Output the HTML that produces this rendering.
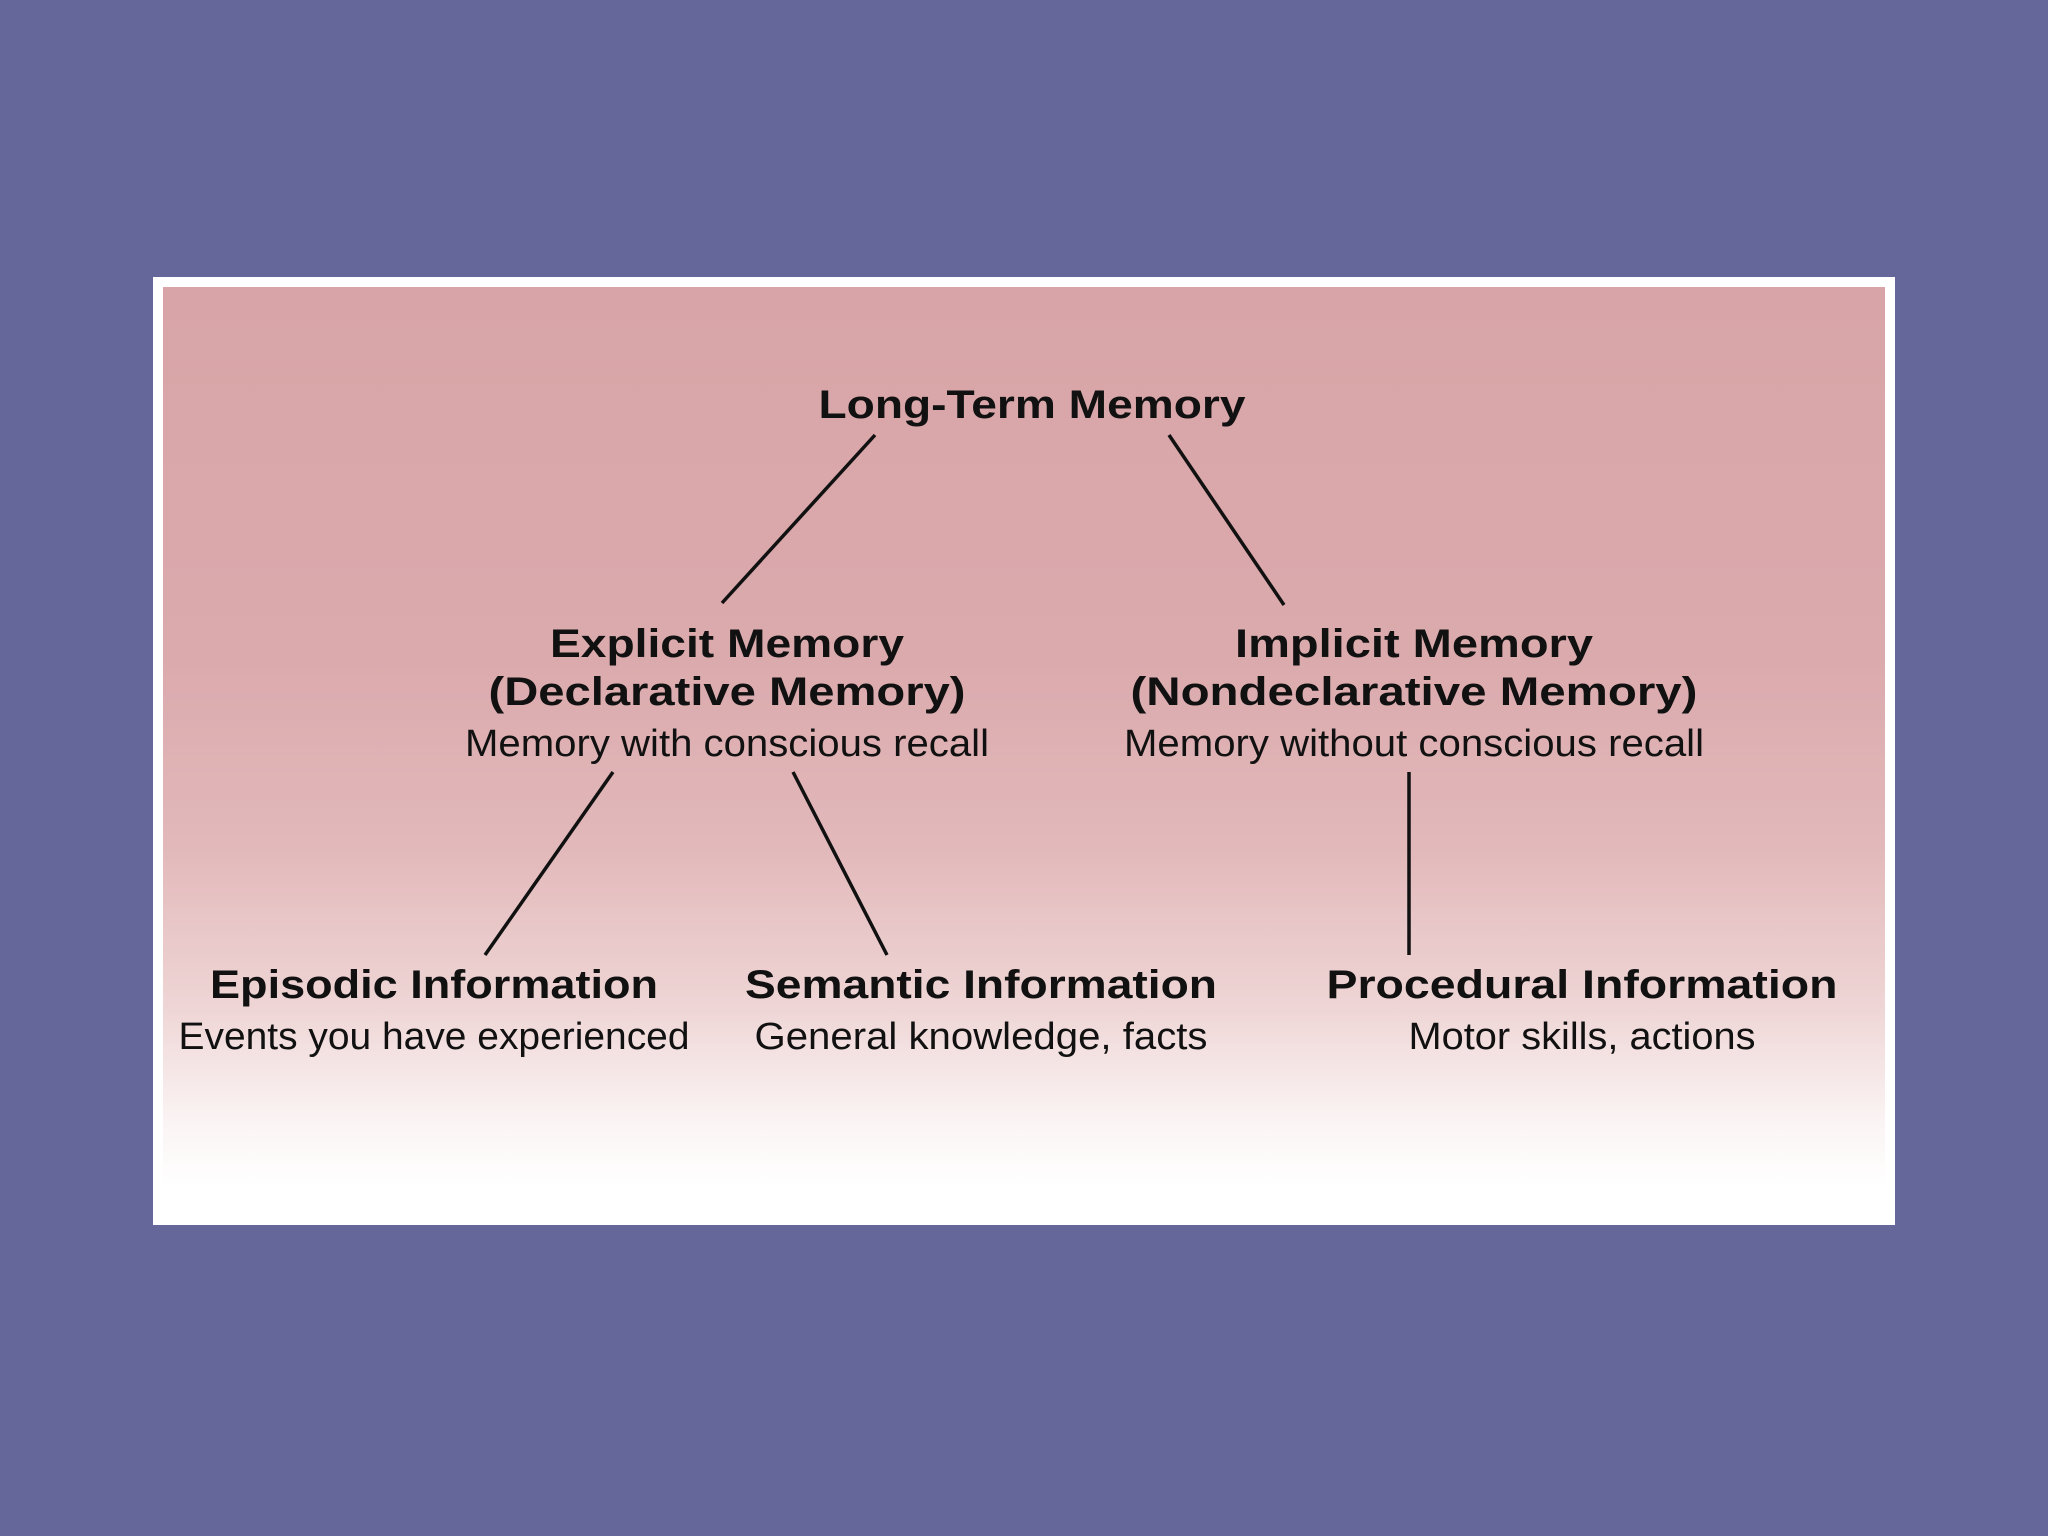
<!DOCTYPE html>
<html><head><meta charset="utf-8"><style>
html,body{margin:0;padding:0;width:2048px;height:1536px;overflow:hidden;background:#65679b;}
.panel{position:absolute;left:153px;top:277px;width:1742px;height:948px;background:#fff;}
.inner{position:absolute;left:10px;top:10px;width:1722px;height:928px;background:linear-gradient(to bottom,#d8a4a7 0%,#dbaaad 40%,#e2b8ba 60%,#efd6d6 78%,#fbf4f4 90%,#ffffff 97%);}
svg{position:absolute;left:0;top:0;}
text{font-family:"Liberation Sans",sans-serif;fill:#111;}
.b{font-weight:bold;font-size:40px;}
.r{font-size:38px;}
</style></head><body>
<div class="panel"><div class="inner"></div></div>
<svg width="2048" height="1536" viewBox="0 0 2048 1536">
<g stroke="#111" stroke-width="3.5" fill="none">
<line x1="875" y1="435" x2="722" y2="603"/>
<line x1="1169" y1="435" x2="1284" y2="605"/>
<line x1="613" y1="772" x2="485" y2="955"/>
<line x1="793" y1="772" x2="887" y2="955"/>
<line x1="1409" y1="772" x2="1409" y2="955"/>
</g>
<g text-anchor="middle">
<text class="b" x="1032" y="418" textLength="427" lengthAdjust="spacingAndGlyphs">Long-Term Memory</text>
<text class="b" x="727" y="657" textLength="354" lengthAdjust="spacingAndGlyphs">Explicit Memory</text>
<text class="b" x="727" y="705" textLength="477" lengthAdjust="spacingAndGlyphs">(Declarative Memory)</text>
<text class="r" x="727" y="756" textLength="524" lengthAdjust="spacingAndGlyphs">Memory with conscious recall</text>
<text class="b" x="1414" y="657" textLength="358" lengthAdjust="spacingAndGlyphs">Implicit Memory</text>
<text class="b" x="1414" y="705" textLength="567" lengthAdjust="spacingAndGlyphs">(Nondeclarative Memory)</text>
<text class="r" x="1414" y="756" textLength="580" lengthAdjust="spacingAndGlyphs">Memory without conscious recall</text>
<text class="b" x="434" y="998" textLength="448" lengthAdjust="spacingAndGlyphs">Episodic Information</text>
<text class="r" x="434" y="1049" textLength="511" lengthAdjust="spacingAndGlyphs">Events you have experienced</text>
<text class="b" x="981" y="998" textLength="472" lengthAdjust="spacingAndGlyphs">Semantic Information</text>
<text class="r" x="981" y="1049" textLength="453" lengthAdjust="spacingAndGlyphs">General knowledge, facts</text>
<text class="b" x="1582" y="998" textLength="511" lengthAdjust="spacingAndGlyphs">Procedural Information</text>
<text class="r" x="1582" y="1049" textLength="347" lengthAdjust="spacingAndGlyphs">Motor skills, actions</text>
</g>
</svg>
</body></html>
